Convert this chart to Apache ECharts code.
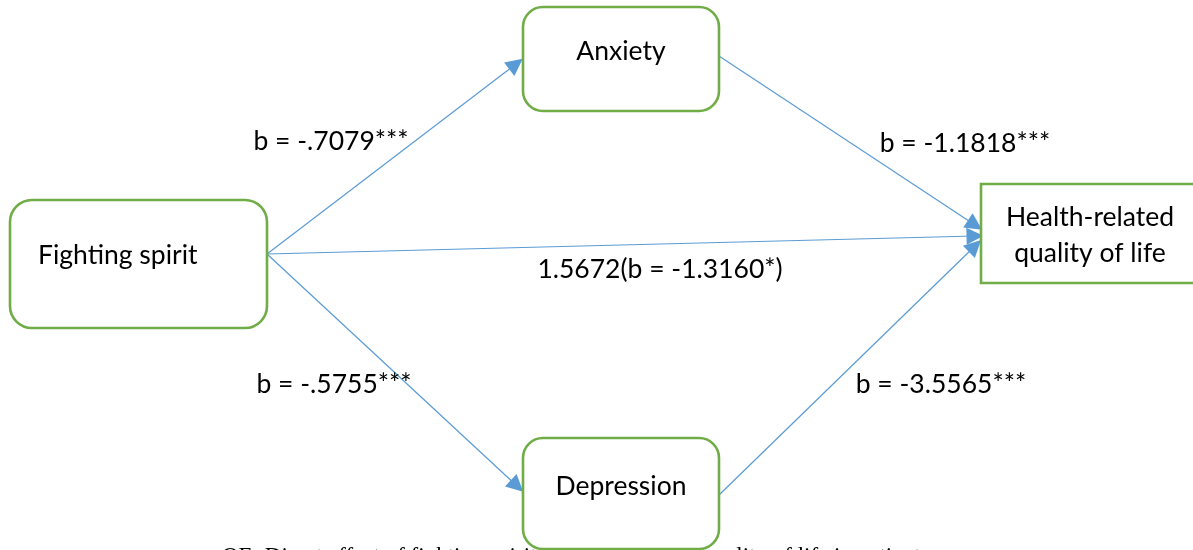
<!DOCTYPE html>
<html>
<head>
<meta charset="utf-8">
<script src="https://cdn.jsdelivr.net/npm/echarts@6/dist/echarts.min.js"></script>
<style>
html,body{margin:0;padding:0;background:#fff;}
#chart{width:1193px;height:550px;}
</style>
</head>
<body>
<div id="chart"></div>
<script>
// ---- data ----
const nodeNames = ['Fighting spirit', 'Anxiety', 'Depression', 'Health-related\nquality of life'];
const pathFrom = [0, 1, 0, 0, 2];
const pathTo   = [1, 3, 3, 2, 3];
const pathLabels = ['b = -.7079***', 'b = -1.1818***', '1.5672(b = -1.3160*)', 'b = -.5755***', 'b = -3.5565***'];
const captionText = 'OE: Direct effect of fighting spirit on health-related quality of life in patients';

// ---- layout (pixel space of the hidden axes) ----
const nodeBox = [            // x0, y0, x1, y1, corner radius
  [10, 200, 267, 328, 22],
  [523, 7, 719, 111, 20],
  [523, 438, 719, 549, 20],
  [981, 184, 1200, 283, 0]
];
const nodeTextPos = [        // x, y, align
  [38, 255, 'left'],
  [621, 51, 'center'],
  [621, 486, 'center'],
  [1090, 235, 'center']
];
const pathStart = [[267, 254], [719, 56], [267, 254], [267, 254], [719, 495]];
const pathEnd   = [[516, 64], [975, 225], [975, 236], [517, 486], [975, 246]];
const labelPos  = [[331, 141], [965, 143], [660, 269], [334, 384], [941, 384]];

const FONT = 'Lato';
const FS = 26.5;
const chart = echarts.init(document.getElementById('chart'));

const option = {
  animation: false,
  backgroundColor: '#ffffff',
  graphic: [{
    type: 'text', z: -10, left: 222, top: 545,
    style: { text: captionText, font: '23px "Liberation Serif"', fill: '#000' }
  }],
  grid: { left: 0, right: 0, top: 0, bottom: 0 },
  xAxis: { type: 'value', min: 0, max: 1193, show: false },
  yAxis: { type: 'value', min: 0, max: 550, inverse: true, show: false },
  series: [
    {
      type: 'lines',
      coordinateSystem: 'cartesian2d',
      z: 3,
      symbol: ['none', 'triangle'],
      symbolSize: [13, 17],
      lineStyle: { color: '#5B9BD5', width: 1.2, opacity: 1, curveness: 0 },
      itemStyle: { color: '#5B9BD5' },
      data: pathFrom.map((f, i) => ({ coords: [pathStart[i], pathEnd[i]] }))
    },
    {
      type: 'custom',
      coordinateSystem: 'cartesian2d',
      z: 4,
      data: nodeNames.map((n, i) => [i]),
      renderItem: function (params, api) {
        const i = api.value(0);
        const b = nodeBox[i];
        const p0 = api.coord([b[0], b[1]]);
        const p1 = api.coord([b[2], b[3]]);
        const t = nodeTextPos[i];
        const tp = api.coord([t[0], t[1]]);
        return {
          type: 'group',
          children: [
            {
              type: 'rect',
              shape: { x: p0[0], y: p0[1], width: p1[0] - p0[0], height: p1[1] - p0[1], r: b[4] },
              style: { fill: '#fff', stroke: '#70AD47', lineWidth: 2.6 }
            },
            {
              type: 'text',
              x: tp[0], y: tp[1],
              style: {
                text: nodeNames[i], fill: '#000', font: FS + 'px ' + FONT,
                align: t[2], verticalAlign: 'middle', lineHeight: 36
              }
            }
          ]
        };
      }
    },
    {
      type: 'scatter',
      z: 5,
      symbolSize: 0,
      itemStyle: { opacity: 1 },
      data: labelPos.map((p, i) => ({ value: p, name: pathLabels[i] })),
      label: {
        show: true, position: 'inside', formatter: '{b}',
        color: '#000', opacity: 1, fontFamily: FONT, fontSize: FS
      }
    }
  ]
};
chart.setOption(option);
</script>
</body>
</html>
